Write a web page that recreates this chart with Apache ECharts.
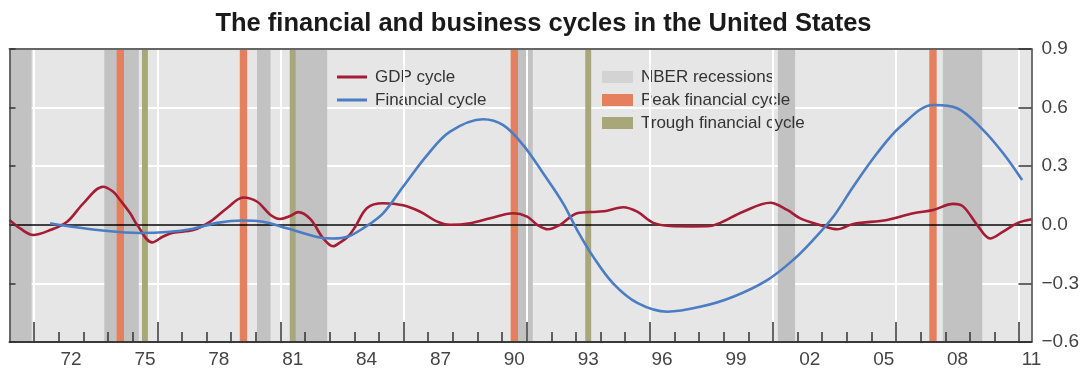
<!DOCTYPE html>
<html>
<head>
<meta charset="utf-8">
<script src="https://cdn.jsdelivr.net/npm/echarts@6/dist/echarts.min.js"></script>
<style>
  html, body { margin: 0; padding: 0; background: #ffffff; }
  #chart { width: 1087px; height: 372px; }
</style>
</head>
<body>
<div id="chart"></div>
<script>
// GDP cycle, [year, value]
const gdpCycle = [
  [1970.0, 0.025], [1970.45, -0.02], [1970.96, -0.052], [1971.65, -0.027], [1972.34, 0.016],
  [1973.0, 0.11], [1973.8, 0.195], [1974.2, 0.17], [1974.49, 0.127], [1974.9, 0.059],
  [1975.18, 0.0], [1975.79, -0.09], [1976.24, -0.06], [1976.64, -0.04], [1977.46, -0.027],
  [1978.15, 0.016], [1978.84, 0.086], [1979.49, 0.14], [1980.06, 0.118], [1980.6, 0.05],
  [1980.99, 0.03], [1981.4, 0.045], [1981.72, 0.065], [1982.21, 0.03], [1982.74, -0.07],
  [1983.14, -0.11], [1983.43, -0.09], [1983.75, -0.06], [1984.04, -0.01], [1984.52, 0.086],
  [1985.17, 0.11], [1985.98, 0.10], [1986.68, 0.067], [1987.37, 0.016], [1987.89, 0.0],
  [1988.71, 0.008], [1989.52, 0.033], [1990.45, 0.059], [1991.02, 0.042], [1991.43, 0.0],
  [1991.87, -0.023], [1992.36, 0.0], [1993.05, 0.059], [1993.86, 0.067], [1994.27, 0.072],
  [1994.92, 0.09], [1995.49, 0.067], [1996.14, 0.01], [1996.83, -0.006], [1997.7, -0.008],
  [1998.45, -0.006], [1998.86, 0.01], [1999.79, 0.067], [2000.89, 0.113], [2001.58, 0.076],
  [2002.11, 0.033], [2003.04, -0.006], [2003.61, -0.023], [2004.26, 0.004], [2005.64, 0.025],
  [2006.70, 0.059], [2007.51, 0.076], [2008.32, 0.107], [2008.73, 0.093], [2009.29, 0.0],
  [2009.82, -0.07], [2010.35, -0.035], [2010.92, 0.008], [2011.5, 0.028]
];

// Financial cycle, [year, value]
const financialCycle = [
  [1971.65, 0.008], [1972.34, -0.006], [1973.68, -0.028], [1975.30, -0.042], [1976.40, -0.037],
  [1977.46, -0.02], [1978.43, 0.01], [1979.49, 0.022], [1980.30, 0.016], [1981.27, -0.018],
  [1982.49, -0.062], [1983.14, -0.07], [1983.75, -0.06], [1984.36, -0.018], [1985.17, 0.059],
  [1985.98, 0.195], [1986.96, 0.357], [1987.89, 0.477], [1989.23, 0.54], [1990.05, 0.51],
  [1990.86, 0.408], [1991.67, 0.264], [1992.48, 0.11], [1993.05, -0.027], [1993.70, -0.163],
  [1994.51, -0.30], [1995.49, -0.40], [1996.71, -0.445], [1998.04, -0.42], [1999.39, -0.368],
  [2000.77, -0.283], [2001.82, -0.18], [2002.63, -0.078], [2003.45, 0.041], [2004.26, 0.195],
  [2005.23, 0.366], [2006.17, 0.502], [2007.51, 0.613], [2008.48, 0.597], [2009.54, 0.485],
  [2010.35, 0.366], [2011.12, 0.229]
];

// NBER recession periods, [start, end] in years
const recessions = [
  [1970.0, 1970.9], [1973.85, 1975.25], [1980.05, 1980.6], [1981.5, 1982.9],
  [1990.5, 1991.25], [2001.2, 2001.9], [2007.9, 2009.5]
];

// Turning points of the financial cycle
const financialPeaks = [1974.5, 1979.5, 1990.5, 2007.5];
const financialTroughs = [1975.5, 1981.5, 1993.5];

// Axis ticks and labels
const yearTicks = [1971, 1972, 1973, 1974, 1975, 1976, 1977, 1978, 1979, 1980, 1981, 1982, 1983, 1984,
  1985, 1986, 1987, 1988, 1989, 1990, 1991, 1992, 1993, 1994, 1995, 1996, 1997, 1998, 1999, 2000,
  2001, 2002, 2003, 2004, 2005, 2006, 2007, 2008, 2009, 2010, 2011];
const majorTickYears = [1971, 1976, 1981, 1986, 1991, 1996, 2001, 2006, 2011];
const xLabelPositions = [1972.5, 1975.5, 1978.5, 1981.5, 1984.5, 1987.5, 1990.5, 1993.5, 1996.5,
  1999.5, 2002.5, 2005.5, 2008.5, 2011.5];
const xLabels = ['72', '75', '78', '81', '84', '87', '90', '93', '96', '99', '02', '05', '08', '11'];

const FONT = "'Liberation Sans', Arial, sans-serif";
const X_MIN = 1970, X_MAX = 2011.5;
const Y_MIN = -0.6, Y_MAX = 0.9, Y_STEP = 0.3;
const PEAK_HALF = 0.15, TROUGH_HALF = 0.12;

function xLabelFor(v) {
  for (let i = 0; i < xLabelPositions.length; i++) {
    if (Math.abs(xLabelPositions[i] - v) < 1e-6) return xLabels[i];
  }
  return '';
}

const yValueAxis = {
  type: 'value', min: Y_MIN, max: Y_MAX, interval: Y_STEP
};

const legendText = { fontSize: 17, color: '#333333', fontFamily: FONT, lineHeight: 20, padding: [0, 0, 0, 3] };

const chart = echarts.init(document.getElementById('chart'), null, { renderer: 'canvas' });

chart.setOption({
  animation: false,
  backgroundColor: '#ffffff',
  textStyle: { fontFamily: FONT },
  title: {
    text: 'The financial and business cycles in the United States',
    left: 'center',
    top: 6,
    textStyle: { fontSize: 25.5, fontWeight: 'bold', color: '#1a1a1a', fontFamily: FONT }
  },
  legend: [
    {
      data: [
        { name: 'GDP cycle', icon: 'rect' },
        { name: 'Financial cycle', icon: 'rect' }
      ],
      orient: 'vertical',
      left: 337, top: 67, padding: 0,
      itemWidth: 30, itemHeight: 3, itemGap: 3,
      selectedMode: false,
      textStyle: legendText
    },
    {
      data: [
        { name: 'NBER recessions', icon: 'rect' },
        { name: 'Peak financial cycle', icon: 'rect' },
        { name: 'Trough financial cycle', icon: 'rect' }
      ],
      orient: 'vertical',
      left: 602, top: 67, padding: 0,
      itemWidth: 31, itemHeight: 12, itemGap: 3,
      selectedMode: false,
      textStyle: legendText
    }
  ],
  grid: {
    left: 9.5, right: 55.5, top: 49, bottom: 30,
    show: true, backgroundColor: '#e6e6e6', borderWidth: 0
  },
  xAxis: [
    {
      type: 'value', min: X_MIN, max: X_MAX, position: 'bottom', z: 10,
      axisLine: { show: true, onZero: false, lineStyle: { color: '#3a3a3a', width: 2 } },
      axisTick: { show: true, inside: true, length: 10, customValues: yearTicks,
        lineStyle: { color: '#333333', width: 1.5 } },
      axisLabel: { show: true, customValues: xLabelPositions, formatter: xLabelFor,
        fontSize: 19, color: '#444444', margin: 8, fontFamily: FONT, showMaxLabel: true },
      splitLine: { show: false }
    },
    {
      type: 'value', min: X_MIN, max: X_MAX, position: 'bottom', z: 10,
      axisLine: { show: false, onZero: false },
      axisTick: { show: true, inside: true, length: 20, customValues: majorTickYears,
        lineStyle: { color: '#333333', width: 1.5 } },
      axisLabel: { show: false },
      splitLine: { show: false }
    },
    {
      type: 'value', min: X_MIN, max: X_MAX, position: 'top', z: 10,
      axisLine: { show: true, onZero: false, lineStyle: { color: '#666666', width: 2 } },
      axisTick: { show: false },
      axisLabel: { show: false },
      splitLine: { show: false }
    }
  ],
  yAxis: [
    Object.assign({}, yValueAxis, {
      position: 'right', z: 10,
      axisLine: { show: true, onZero: false, lineStyle: { color: '#444444', width: 1.5 } },
      axisTick: { show: true, inside: true, length: 13, lineStyle: { color: '#333333', width: 1.5 } },
      axisLabel: { show: true, fontSize: 19, color: '#444444', margin: 10, fontFamily: FONT,
        formatter: v => (v < -1e-9 ? '\u2212' : '') + Math.abs(v).toFixed(1) },
      splitLine: { show: false }
    }),
    Object.assign({}, yValueAxis, {
      position: 'left', z: 10,
      axisLine: { show: true, onZero: false, lineStyle: { color: '#444444', width: 1.5 } },
      axisTick: { show: true, inside: true, length: 6, lineStyle: { color: '#333333', width: 1.5 } },
      axisLabel: { show: false },
      splitLine: { show: false }
    }),
    Object.assign({}, yValueAxis, {
      position: 'left', z: 0,
      axisLine: { show: false, onZero: false },
      axisTick: { show: false },
      axisLabel: { show: false },
      splitLine: { show: true, lineStyle: { color: '#ffffff', width: 2 } }
    })
  ],
  series: [
    {
      name: 'NBER recessions', type: 'line', data: [], z: 1,
      xAxisIndex: 0, yAxisIndex: 0,
      itemStyle: { color: '#d3d3d3' }, lineStyle: { color: '#d3d3d3' },
      markArea: {
        silent: true,
        itemStyle: { color: '#c2c2c2' },
        data: recessions.map(r => [{ xAxis: r[0] }, { xAxis: r[1] }])
      }
    },
    {
      name: 'year grid', type: 'line', data: [], z: 2,
      xAxisIndex: 0, yAxisIndex: 0,
      markLine: {
        silent: true, symbol: ['none', 'none'], label: { show: false },
        lineStyle: { color: '#ffffff', width: 2, type: 'solid' },
        data: majorTickYears.map(v => ({ xAxis: v }))
      }
    },
    {
      name: 'Peak financial cycle', type: 'line', data: [], z: 3,
      xAxisIndex: 0, yAxisIndex: 0,
      itemStyle: { color: '#e67f5e' }, lineStyle: { color: '#e67f5e' },
      markArea: {
        silent: true,
        itemStyle: { color: '#e67f5e' },
        data: financialPeaks.map(p => [{ xAxis: p - PEAK_HALF }, { xAxis: p + PEAK_HALF }])
      }
    },
    {
      name: 'Trough financial cycle', type: 'line', data: [], z: 3,
      xAxisIndex: 0, yAxisIndex: 0,
      itemStyle: { color: '#a7a77a' }, lineStyle: { color: '#a7a77a' },
      markArea: {
        silent: true,
        itemStyle: { color: '#a7a77a' },
        data: financialTroughs.map(p => [{ xAxis: p - TROUGH_HALF }, { xAxis: p + TROUGH_HALF }])
      }
    },
    {
      name: 'zero line', type: 'line', data: [], z: 4,
      xAxisIndex: 0, yAxisIndex: 0,
      markLine: {
        silent: true, symbol: ['none', 'none'], label: { show: false },
        lineStyle: { color: '#000000', width: 1.5, type: 'solid' },
        data: [{ yAxis: 0 }]
      }
    },
    {
      name: 'GDP cycle', type: 'line', data: gdpCycle, z: 5,
      xAxisIndex: 0, yAxisIndex: 0,
      smooth: 0.35, symbol: 'none',
      itemStyle: { color: '#a41d34' },
      lineStyle: { color: '#a41d34', width: 2.6 }
    },
    {
      name: 'Financial cycle', type: 'line', data: financialCycle, z: 6,
      xAxisIndex: 0, yAxisIndex: 0,
      smooth: 0.35, symbol: 'none',
      itemStyle: { color: '#4a7dc4' },
      lineStyle: { color: '#4a7dc4', width: 2.6 }
    }
  ]
});
</script>
</body>
</html>
